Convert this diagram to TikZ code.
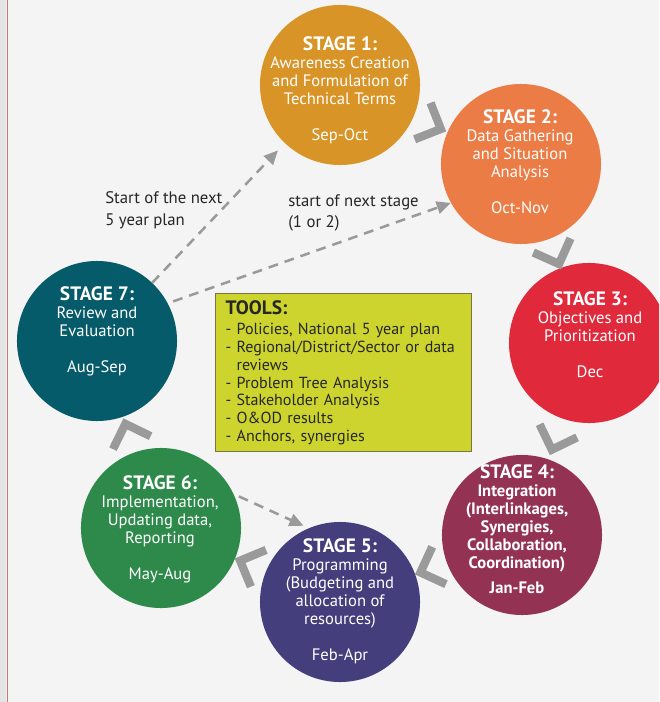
\documentclass[tikz,border=0pt]{standalone}
\usepackage{fontspec}
\setmainfont{PT Sans}
\usepackage{xcolor}
\usepackage{tikz}
\usetikzlibrary{calc,arrows.meta}

\definecolor{paper}{HTML}{F4F4F4}
\definecolor{stripgrey}{HTML}{E4E4E4}
\definecolor{rimred}{HTML}{C27B6B}
\definecolor{arrowgrey}{HTML}{9A9A9A}
\definecolor{toolsfill}{HTML}{CDD42E}
\definecolor{toolsrim}{HTML}{7D7445}
\definecolor{inktext}{HTML}{262626}
\definecolor{stageone}{HTML}{D99427}
\definecolor{stagetwo}{HTML}{EC7C45}
\definecolor{stagethree}{HTML}{E02A3C}
\definecolor{stagefour}{HTML}{933253}
\definecolor{stagefive}{HTML}{443E7C}
\definecolor{stagesix}{HTML}{2E8A4B}
\definecolor{stageseven}{HTML}{055B69}

\newcommand{\sttitle}[1]{{\fontsize{13.8}{15}\selectfont\bfseries #1}}

\begin{document}
\begin{tikzpicture}[x=0.025cm, y=-0.025cm,
    stage/.style={circle, minimum size=4cm, inner sep=0pt},
    stagetext/.style={text=white, align=center, inner sep=0pt, font=\fontsize{11.8}{12.8}\selectfont},
    chev/.style={draw=arrowgrey, line width=5.9pt, miter limit=10},
    nextarrow/.style={draw=arrowgrey, line width=1.8pt, dash pattern=on 7pt off 5pt, -{Triangle[length=10pt,width=9pt]}},
    note/.style={align=left, anchor=west, text=inktext, inner sep=0pt, font=\fontsize{11.9}{15.5}\selectfont},
    toolsbox/.style={draw=toolsrim, fill=toolsfill, line width=0.8pt, anchor=north west, text=inktext,
        minimum width=6.4cm, minimum height=3.95cm, text width=5.9cm, inner xsep=0.25cm, align=left,
        font=\fontsize{11.4}{12.66}\selectfont}]
    % page
    \useasboundingbox (0,0) rectangle (659,702);
    \clip (0,0) rectangle (659,702);
    \fill[paper] (0,0) rectangle (659,702);
    \fill[stripgrey] (0,0) rectangle (6,702);
    \draw[rimred, line width=1.1pt] (7.5,0) -- (7.5,702);

    % stages
    \node[stage, fill=stageone] (s1) at (340,85) {};
    \node[stage, fill=stagetwo] (s2) at (521,164) {};
    \node[stage, fill=stagethree] (s3) at (589,343) {};
    \node[stage, fill=stagefour] (s4) at (522,535) {};
    \node[stage, fill=stagefive] (s5) at (340,602) {};
    \node[stage, fill=stagesix] (s6) at (161,528) {};
    \node[stage, fill=stageseven] (s7) at (97,341) {};

    \node[stagetext] (t1) at (340,90) {\sttitle{STAGE 1:}\\ Awareness Creation\\ and Formulation of\\ Technical Terms\\[12.8pt] Sep-Oct};
    \node[stagetext] (t2) at (520,162) {\sttitle{STAGE 2:}\\ Data Gathering\\ and Situation\\ Analysis\\[12.8pt] Oct-Nov};
    \node[stagetext] (t3) at (590,335) {\sttitle{STAGE 3:}\\ Objectives and\\ Prioritization\\[12.8pt] Dec};
    \node[stagetext, font=\fontsize{11.8}{12.8}\selectfont\bfseries] (t4) at (517,529) {\sttitle{STAGE 4:}\\ Integration\\ (Interlinkages,\\ Synergies,\\ Collaboration,\\ Coordination)\\[5pt] Jan-Feb};
    \node[stagetext] (t5) at (340,601) {\sttitle{STAGE 5:}\\ Programming\\ (Budgeting and\\ allocation of\\ resources)\\[12.8pt] Feb-Apr};
    \node[stagetext] (t6) at (160,529) {\sttitle{STAGE 6:}\\ Implementation,\\ Updating data,\\ Reporting\\[12.8pt] May-Aug};
    \node[stagetext] (t7) at (97,331) {\sttitle{STAGE 7:}\\ Review and\\ Evaluation\\[12.8pt] Aug-Sep};

    % chevrons between stages
    \foreach \a/\b in {s1/s2, s2/s3, s3/s4, s4/s5, s5/s6, s6/s7}
        \draw[chev] let \p1=($(\b)-(\a)$), \n1={atan2(\y1,\x1)} in
            ($(\a)!0.5!(\b)+(\n1:8pt)+(\n1+135:20pt)$) -- ($(\a)!0.5!(\b)+(\n1:8pt)$)
            -- ($(\a)!0.5!(\b)+(\n1:8pt)+(\n1-135:20pt)$);

    % dashed arrows
    \draw[nextarrow, shorten >=7pt] (s7) -- (s1);
    \draw[nextarrow, shorten <=4pt] (s7.28) -- (s2.209);
    \draw[nextarrow, shorten <=4pt, shorten >=4pt] (s6.25) -- (s5.113);
    \node[note] (nplan) at (105,210) {Start of the next\\ 5 year plan};
    \node[note] (nstage) at (288,213) {start of next stage\\ (1 or 2)};

    % tools
    \node[toolsbox] (tools) at (215,293) {{\fontsize{13.8}{15}\selectfont\bfseries TOOLS:}\\[2pt]
        - Policies, National 5 year plan\\
        - Regional/District/Sector or data\\
        \phantom{- }reviews\\
        - Problem Tree Analysis\\
        - Stakeholder Analysis\\
        - O\&OD results\\
        - Anchors, synergies};
\end{tikzpicture}
\end{document}
